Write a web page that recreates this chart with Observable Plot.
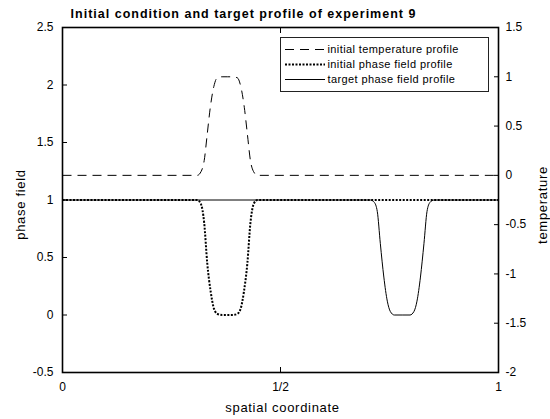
<!DOCTYPE html>
<html>
<head>
<meta charset="utf-8">
<script src="https://cdn.jsdelivr.net/npm/d3@7"></script>
<script src="https://cdn.jsdelivr.net/npm/@observablehq/plot@0.6"></script>
<style>
  html, body { margin: 0; padding: 0; background: #fff; }
  body { font-family: "Liberation Sans", Arial, Helvetica, sans-serif; color: #000; }
  #wrap { position: relative; width: 550px; height: 419px; overflow: hidden; }
  #title { position: relative; height: 20px; }
  #title span {
    position: absolute; left: 0; width: 487px; top: 8px; line-height: 13px;
    text-align: center; font-weight: bold; font-size: 12.5px; letter-spacing: 1px; white-space: nowrap;
  }
  #legend {
    position: absolute; left: 280px; top: 37px; width: 203px; height: 48px;
    border: 1.5px solid #222; background: #fff; padding: 3.5px 0 1.5px 3.5px;
    font-size: 11px; letter-spacing: 0.4px;
  }
  #legend .row { display: flex; align-items: center; height: 15px; white-space: nowrap; }
  #legend svg { width: 40px; height: 15px; margin-right: 3px; flex: none; }
</style>
</head>
<body>
<div id="wrap">
  <div id="title"><span></span></div>
  <div id="chart"></div>
  <div id="legend"></div>
</div>
<script>
// Spatial samples of the initial temperature bump (right-hand temperature scale)
const tempX = [0, 0.309, 0.318, 0.325, 0.332, 0.339, 0.347, 0.355, 0.366, 0.378, 0.390, 0.401, 0.409, 0.417, 0.424, 0.431, 0.438, 0.447, 1];
const tempY = [0, 0, 0.04, 0.15, 0.42, 0.69, 0.9, 0.99, 1.0, 1.0, 1.0, 0.99, 0.9, 0.69, 0.42, 0.15, 0.04, 0, 0];

// Initial phase field (left-hand scale)
const phaseX = [0, 0.309, 0.317, 0.325, 0.332, 0.340, 0.347, 0.355, 0.366, 0.378, 0.390, 0.401, 0.409, 0.416, 0.424, 0.431, 0.439, 0.447, 1];
const phaseY = [1, 1, 0.97, 0.8, 0.45, 0.2, 0.06, 0.01, 0, 0, 0, 0.01, 0.06, 0.2, 0.45, 0.8, 0.97, 1, 1];

// Target phase field (left-hand scale)
const targetX = [0, 0.706, 0.715, 0.722, 0.729, 0.737, 0.745, 0.752, 0.761, 0.779, 0.797, 0.806, 0.813, 0.821, 0.829, 0.836, 0.843, 0.852, 1];
const targetY = [1, 1, 0.98, 0.9, 0.62, 0.33, 0.12, 0.03, 0, 0, 0, 0.03, 0.12, 0.33, 0.62, 0.9, 0.98, 1, 1];

// Axis ticks
const xTicks = [0, 0.5, 1];
const xTickLabels = ["0", "1/2", "1"];
const phaseTicks = [-0.5, 0, 0.5, 1, 1.5, 2, 2.5];
const tempTicks = [-2, -1.5, -1, -0.5, 0, 0.5, 1, 1.5];

// Text
const titleText = "Initial condition and target profile of experiment 9";
const xLabel = "spatial coordinate";
const yLabelLeft = "phase field";
const yLabelRight = "temperature";
const seriesNames = ["initial temperature profile", "initial phase field profile", "target phase field profile"];

// Left and right y domains; temperature is mapped onto the left scale
const phaseDomain = [-0.5, 2.5];
const tempDomain = [-2, 1.5];
const toLeft = t => phaseDomain[0] + (t - tempDomain[0]) / (tempDomain[1] - tempDomain[0]) * (phaseDomain[1] - phaseDomain[0]);

const temp = tempX.map((x, i) => ({x, y: toLeft(tempY[i])}));
const phase = phaseX.map((x, i) => ({x, y: phaseY[i]}));
const target = targetX.map((x, i) => ({x, y: targetY[i]}));

const tempTickPos = tempTicks.map(toLeft);
const tempLabelAt = new Map(tempTickPos.map((p, i) => [p, String(tempTicks[i])]));

const styles = {
  temp: {stroke: "#000", strokeWidth: 1, strokeDasharray: "9,6"},
  phase: {stroke: "#000", strokeWidth: 2, strokeDasharray: "2,1.5"},
  target: {stroke: "#000", strokeWidth: 1, strokeDasharray: null}
};
const lineOpts = {x: "x", y: "y", curve: "monotone-x", strokeLinecap: "butt", strokeLinejoin: "miter"};

const chart = Plot.plot({
  width: 550,
  height: 399,
  marginTop: 7,
  marginBottom: 47,
  marginLeft: 62,
  marginRight: 52,
  style: {fontFamily: "Liberation Sans, Arial, Helvetica, sans-serif", fontSize: "12px", color: "#000", background: "#fff"},
  x: {domain: [0, 1]},
  y: {domain: phaseDomain},
  marks: [
    Plot.line(target, {...lineOpts, ...styles.target}),
    Plot.line(phase, {...lineOpts, ...styles.phase}),
    Plot.line(temp, {...lineOpts, ...styles.temp}),
    Plot.axisX(xTicks, {anchor: "bottom", tickSize: -5, tickPadding: 15, tickFormat: d => xTickLabels[xTicks.indexOf(d)], label: null, fontSize: 12}),
    Plot.axisX(xTicks, {anchor: "top", tickSize: -5, tickFormat: () => "", label: null}),
    Plot.axisY(phaseTicks, {anchor: "left", tickSize: -5, tickPadding: 14, tickFormat: d => String(d), label: null, fontSize: 12}),
    Plot.axisY(tempTickPos, {anchor: "right", tickSize: -5, tickPadding: 12, tickFormat: d => tempLabelAt.get(d), label: null, fontSize: 12}),
    Plot.frame({stroke: "#000", strokeWidth: 1.6}),
    Plot.text([xLabel], {frameAnchor: "bottom", textAnchor: "middle", dx: 2, dy: 39, fontSize: 13}),
    Plot.text([yLabelLeft], {frameAnchor: "left", textAnchor: "middle", rotate: -90, dx: -42, dy: 4.5, fontSize: 13}),
    Plot.text([yLabelRight], {frameAnchor: "right", textAnchor: "middle", rotate: -90, dx: 44, dy: 5, fontSize: 13})
  ]
});
chart.querySelectorAll("text").forEach(t => {
  const s = t.textContent;
  if (s === xLabel || s === yLabelLeft || s === yLabelRight) t.setAttribute("letter-spacing", "0.7px");
});
document.getElementById("chart").appendChild(chart);
document.querySelector("#title span").textContent = titleText;

// Legend rows with line samples
const legend = document.getElementById("legend");
[styles.temp, styles.phase, styles.target].forEach((st, i) => {
  const row = document.createElement("div");
  row.className = "row";
  const dash = st.strokeDasharray ? ` stroke-dasharray="${st.strokeDasharray}"` : "";
  row.innerHTML = `<svg viewBox="0 0 40 15"><line x1="0" x2="40" y1="7.5" y2="7.5" stroke="${st.stroke}" stroke-width="${st.strokeWidth}"${dash}/></svg><span>${seriesNames[i]}</span>`;
  legend.appendChild(row);
});
</script>
</body>
</html>
